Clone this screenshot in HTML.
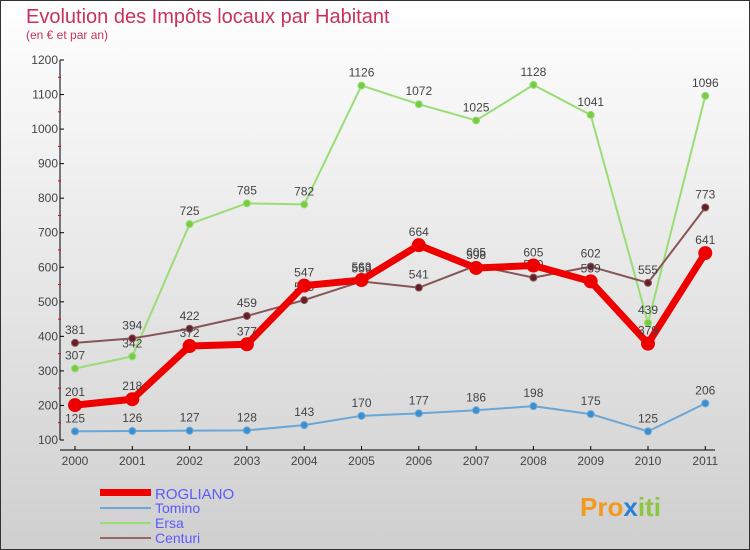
<!DOCTYPE html>
<html><head><meta charset="utf-8"><style>
body{margin:0;width:750px;height:550px;overflow:hidden;font-family:"Liberation Sans",sans-serif}
svg{display:block}
</style></head><body>
<svg width="750" height="550">
<defs><linearGradient id="bg" x1="0" y1="0" x2="0" y2="1"><stop offset="0" stop-color="#ffffff"/><stop offset="1" stop-color="#cfcfcf"/></linearGradient></defs>
<rect x="0.5" y="0.5" width="749" height="549" fill="url(#bg)" stroke="#333"/>
<text x="26" y="23" font-size="20" fill="#c8325a">Evolution des Impôts locaux par Habitant</text>
<text x="26" y="39" font-size="12" fill="#c8325a">(en € et par an)</text>
<g id="axes"></g><g id="series"></g>
<g>
<rect x="100" y="489" width="51" height="7" fill="#e00"/>
<text x="155" y="499" font-size="15" fill="#5a5aff">ROGLIANO</text>
<line x1="100" y1="508" x2="151" y2="508" stroke="#6aa6d6" stroke-width="2"/>
<text x="155" y="513" font-size="14" fill="#5a5aff">Tomino</text>
<line x1="100" y1="523" x2="151" y2="523" stroke="#99dd77" stroke-width="2"/>
<text x="155" y="528" font-size="14" fill="#5a5aff">Ersa</text>
<line x1="100" y1="538" x2="151" y2="538" stroke="#996666" stroke-width="2"/>
<text x="155" y="543" font-size="14" fill="#5a5aff">Centuri</text>
</g>
<text x="580" y="516" font-size="26" font-weight="bold" fill="#f39a1e">Pro<tspan fill="#2a7fd4">x</tspan><tspan fill="#8cc63f">iti</tspan></text>
</svg>
<script>
const years=['2000','2001','2002','2003','2004','2005','2006','2007','2008','2009','2010','2011'];
const yTicks=[100,200,300,400,500,600,700,800,900,1000,1100,1200];
const rogliano=[201,218,372,377,547,563,664,598,605,559,379,641];
const tomino=[125,126,127,128,143,170,177,186,198,175,125,206];
const ersa=[307,342,725,785,782,1126,1072,1025,1128,1041,439,1096];
const centuri=[381,394,422,459,505,559,541,605,570,602,555,773];
const NS='http://www.w3.org/2000/svg';
const X=i=>75+i*57.3;
const Y=v=>440-(v-100)*380/1100;
function mk(t,a,p){const e=document.createElementNS(NS,t);for(const k in a)e.setAttribute(k,a[k]);p.appendChild(e);return e;}
const ax=document.getElementById('axes');
const yl=mk('line',{x1:60,y1:Y(1200),x2:60,y2:Y(100),stroke:'#000'},ax);


yTicks.forEach((v,i)=>{
 mk('line',{x1:60,y1:Y(v),x2:64,y2:Y(v),stroke:'#000'},ax);
 if(i<yTicks.length-1) mk('line',{x1:58,y1:Y(v+50),x2:61,y2:Y(v+50),stroke:'#e00'},ax);
 const t=mk('text',{x:58,y:Y(v)+4,'font-size':12,'text-anchor':'end',fill:'#444'},ax);
 t.textContent=v;
 
 
});
const xl=mk('line',{x1:60,y1:450,x2:715,y2:450,stroke:'#000'},ax);


years.forEach((y,i)=>{
 mk('line',{x1:X(i),y1:446,x2:X(i),y2:450,stroke:'#000'},ax);
 const t=mk('text',{x:X(i),y:465,'font-size':12,'text-anchor':'middle',fill:'#444'},ax);
 t.textContent=y;
 
 
});
const sg=document.getElementById('series');
function draw(name,vals,color,w,r,dot){
 const g=mk('g',{},sg);
 
 
 const pl=mk('polyline',{points:vals.map((v,i)=>X(i)+','+Y(v)).join(' '),fill:'none',stroke:color,'stroke-width':w,'stroke-linejoin':'round'},g);
 
 
 vals.forEach((v,i)=>{
  const c=mk('circle',{cx:X(i),cy:Y(v),r:r,fill:dot,stroke:color,'stroke-width':1},g);
  
  
  const t=mk('text',{x:X(i),y:Y(v)-9,'font-size':12,'text-anchor':'middle',fill:'#444'},g);
  t.textContent=v;
  
  
 });
}
draw('tomino',tomino,'#6aa6d6',2,3.5,'#3b8fcf');
draw('ersa',ersa,'#99dd77',2,3.5,'#77cc44');
draw('centuri',centuri,'#885555',2,3.5,'#661f2a');
draw('rogliano',rogliano,'#ee0000',7,6.5,'#ee0000');
</script>
</body></html>
